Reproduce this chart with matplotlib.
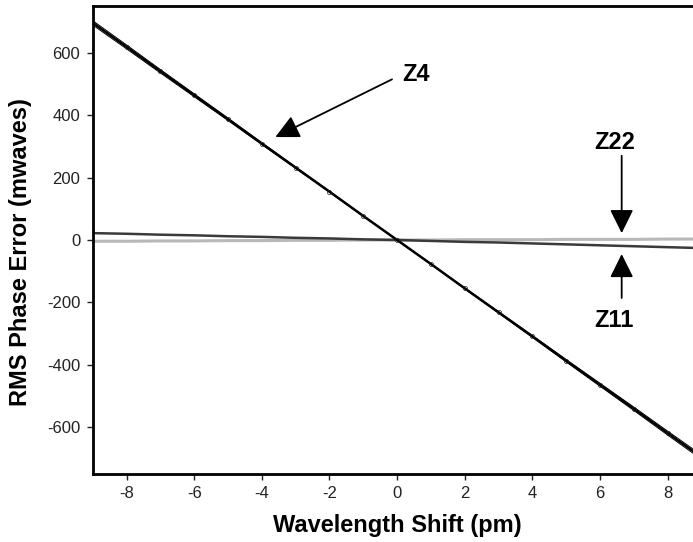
import matplotlib
matplotlib.use("Agg")
import matplotlib.pyplot as plt

shift_pm = [-9, -8, -7, -6, -5, -4, -3, -2, -1, 0, 1, 2, 3, 4, 5, 6, 7, 8, 9]
z4 = [696, 619, 541, 464, 387, 309, 232, 155, 77, 0, -77, -155, -232, -309, -387, -464, -541, -619, -696]
z11 = [22, 20, 17, 15, 12, 10, 7, 5, 2, 0, -3, -6, -8, -11, -14, -17, -20, -23, -26]
z22 = [-4, -4, -3, -3, -2, -2, -1, -1, 0, 0, 0, 1, 1, 1, 2, 2, 2, 3, 3]
xticks = [-8, -6, -4, -2, 0, 2, 4, 6, 8]
yticks = [-600, -400, -200, 0, 200, 400, 600]

plt.rcParams['font.family'] = ['Liberation Sans', 'DejaVu Sans']
plt.rcParams['axes.unicode_minus'] = False

fig = plt.figure(figsize=(6.93, 5.42), dpi=100)
W, H = 693, 542
ax = fig.add_axes([92.7 / W, 68 / H, (701.5 - 92.7) / W, (474 - 6) / H])

ax.plot(shift_pm, z22, color='#b8b8b8', lw=2.2, solid_capstyle='butt')
ax.plot(shift_pm, z11, color='#3a3a3a', lw=1.8, solid_capstyle='butt')
for off, lw in [(0, 1.8), (7, 0.7), (-7, 0.7)]:
    ax.plot(shift_pm, [v + off * (s / 9) for v, s in zip(z4, shift_pm)], color='black', lw=lw)
ax.plot(shift_pm, z4, color='#222222', lw=0, marker='o', ms=3, mfc='none', mew=0.5)

ax.set_xlim(-9, 9)
ax.set_ylim(-750, 750)
ax.set_xticks(xticks)
ax.set_yticks(yticks)
ax.tick_params(direction='out', length=4, width=1, labelsize=12, colors='#222222', pad=5)
for side in ['left', 'bottom', 'top', 'right']:
    ax.spines[side].set_linewidth(2)

ax.set_xlabel('Wavelength Shift (pm)', fontsize=17, fontweight='bold', labelpad=9)
ax.set_ylabel('RMS Phase Error (mwaves)', fontsize=17, fontweight='bold')
ax.yaxis.set_label_coords(-0.1, 0.475)

arrowprops = dict(arrowstyle='-|>,head_width=0.72,head_length=1.45', color='black', lw=1.3,
                  shrinkA=0, shrinkB=0, mutation_scale=10)
ax.annotate('', xy=(-3.6, 330), xytext=(-0.15, 515), arrowprops=arrowprops)
ax.text(0.55, 529, 'Z4', fontsize=17, fontweight='bold', ha='center', va='center')
ax.annotate('', xy=(6.64, 22), xytext=(6.64, 270), arrowprops=arrowprops)
ax.text(6.42, 311, 'Z22', fontsize=17, fontweight='bold', ha='center', va='center')
ax.annotate('', xy=(6.64, -45), xytext=(6.64, -186), arrowprops=arrowprops)
ax.text(6.42, -257, 'Z11', fontsize=17, fontweight='bold', ha='center', va='center')

fig.savefig('out.png', dpi=100)
